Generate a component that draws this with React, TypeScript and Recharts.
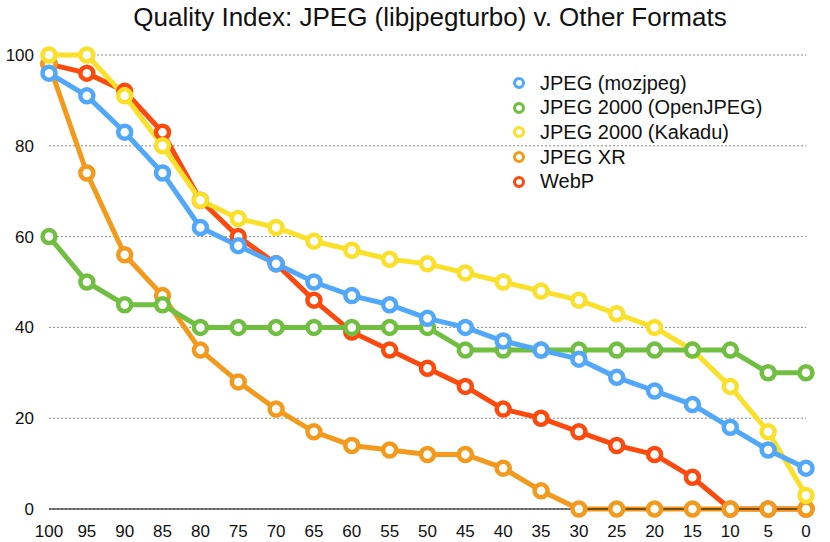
import React from 'react';
import { LineChart, Line, XAxis, YAxis, CartesianGrid } from 'recharts';

const qualities = ['100', '95', '90', '85', '80', '75', '70', '65', '60', '55', '50', '45', '40', '35', '30', '25', '20', '15', '10', '5', '0'];
const yTicks = [0, 20, 40, 60, 80, 100];

const mozjpeg = [96, 91, 83, 74, 62, 58, 54, 50, 47, 45, 42, 40, 37, 35, 33, 29, 26, 23, 18, 13, 9];
const openjpeg = [60, 50, 45, 45, 40, 40, 40, 40, 40, 40, 40, 35, 35, 35, 35, 35, 35, 35, 35, 30, 30];
const kakadu = [100, 100, 91, 80, 68, 64, 62, 59, 57, 55, 54, 52, 50, 48, 46, 43, 40, 35, 27, 17, 3];
const jpegxr = [98, 74, 56, 47, 35, 28, 22, 17, 14, 13, 12, 12, 9, 4, 0, 0, 0, 0, 0, 0, 0];
const webp = [98, 96, 92, 83, 68, 60, 54, 46, 39, 35, 31, 27, 22, 20, 17, 14, 12, 7, 0, 0, 0];

// legend order; drawn in reverse so the first one ends up on top
const series = [
  { key: 'mozjpeg', name: 'JPEG (mozjpeg)', color: '#51a7f9', values: mozjpeg },
  { key: 'openjpeg', name: 'JPEG 2000 (OpenJPEG)', color: '#70bf41', values: openjpeg },
  { key: 'kakadu', name: 'JPEG 2000 (Kakadu)', color: '#fbe02a', values: kakadu },
  { key: 'jpegxr', name: 'JPEG XR', color: '#f39a1c', values: jpegxr },
  { key: 'webp', name: 'WebP', color: '#fc4a0e', values: webp },
];

const data = qualities.map((q, i) => {
  const row: Record<string, string | number> = { q };
  series.forEach((s) => (row[s.key] = s.values[i]));
  return row;
});

const font = '"Liberation Sans", Helvetica, Arial, sans-serif';

export default function App() {
  return (
    <div style={{ position: 'absolute', left: 0, top: 0, width: 830, height: 542, background: '#fff', fontFamily: font }}>
      <div style={{ position: 'absolute', left: 0, top: 2, width: 860, textAlign: 'center', fontSize: 26, color: '#111' }}>
        Quality Index: JPEG (libjpegturbo) v. Other Formats
      </div>
      <LineChart width={830} height={542} data={data} margin={{ top: 55, right: 24, bottom: 3, left: 0 }}>
        <CartesianGrid vertical={false} stroke="#888" strokeDasharray="2 2" />
        <XAxis
          dataKey="q"
          height={30}
          tickLine={false}
          tickSize={0}
          tickMargin={16}
          axisLine={{ stroke: '#000', strokeWidth: 1.2 }}
          tick={{ fill: '#111', fontSize: 17, fontFamily: font }}
          interval={0}
        />
        <YAxis
          width={49}
          domain={[0, 100]}
          ticks={yTicks}
          axisLine={false}
          tickLine={false}
          tickSize={0}
          tickMargin={15}
          tick={{ fill: '#111', fontSize: 17, fontFamily: font }}
        />
        {[...series].reverse().map((s) => (
          <Line
            key={s.key}
            dataKey={s.key}
            name={s.name}
            stroke={s.color}
            strokeWidth={5}
            dot={{ r: 6.5, fill: '#fff', stroke: s.color, strokeWidth: 4.5 }}
            isAnimationActive={false}
          />
        ))}
      </LineChart>
      <div style={{ position: 'absolute', left: 510, top: 71 }}>
        {series.map((s) => (
          <div key={s.key} style={{ display: 'flex', alignItems: 'center', height: 24.6, fontSize: 20, color: '#111' }}>
            <svg width={30} height={16}>
              <circle cx={9} cy={8} r={4.5} fill="#fff" stroke={s.color} strokeWidth={3} />
            </svg>
            <span>{s.name}</span>
          </div>
        ))}
      </div>
    </div>
  );
}
